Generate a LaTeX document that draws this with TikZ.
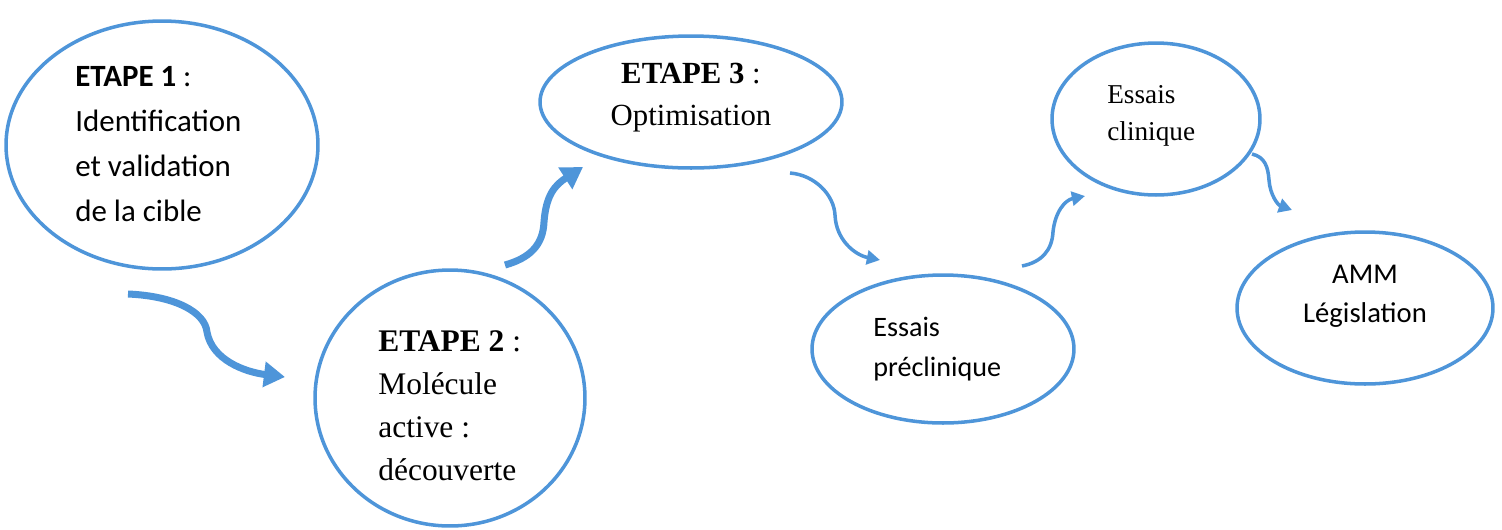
\documentclass[tikz,border=0pt]{standalone}
\usepackage{fontspec}
\setmainfont{Liberation Serif}
\setsansfont{Carlito}
\usepackage{tikz}
\usetikzlibrary{shapes.geometric,arrows.meta}
\definecolor{stepblue}{RGB}{78,149,217}

\begin{document}
\begin{tikzpicture}[x=0.02cm, y=-0.02cm]
        \tikzstyle{enode} = [draw=stepblue, line width=2pt, ellipse, inner sep=0pt]
        \tikzstyle{tnode} = [inner sep=0pt, align=left, anchor=north west]
        \tikzstyle{bigarr} = [draw=stepblue, line width=4pt, -{Triangle[width=14pt,length=12pt]}]
        \tikzstyle{smallarr} = [draw=stepblue, line width=2pt, -{Triangle[width=8pt,length=7.5pt]}]

        \useasboundingbox (0,0) rectangle (1502,529);

        % etapes
        \node[enode, minimum width=6.24cm, minimum height=4.96cm] (e1) at (162,145) {};
        \node[enode, minimum width=5.4cm, minimum height=5.12cm] (e2) at (450,398) {};
        \node[enode, minimum width=6.04cm, minimum height=2.64cm] (e3) at (691,102) {};
        \node[enode, minimum width=5.24cm, minimum height=2.96cm] (e4) at (943,349) {};
        \node[enode, minimum width=4.16cm, minimum height=3.04cm] (e5) at (1156,119) {};
        \node[enode, minimum width=5.12cm, minimum height=3.04cm] (e6) at (1365,308) {};

        \node[tnode, font=\sffamily\fontsize{17.6}{25.6}\selectfont] (t1) at (75,66)
          {\textbf{ETAPE 1} :\\ Identification\\ et validation\\ de la cible};
        \node[tnode, font=\fontsize{17.9}{24.5}\selectfont] (t2) at (378,330)
          {\textbf{ETAPE 2} :\\ Molécule\\ active :\\ découverte};
        \node[tnode, align=center, anchor=north, font=\fontsize{17.5}{23.9}\selectfont] (t3) at (691,63)
          {\textbf{ETAPE 3} :\\ Optimisation};
        \node[tnode, font=\sffamily\fontsize{16}{22.8}\selectfont] (t4) at (873,317)
          {Essais\\ préclinique};
        \node[tnode, font=\fontsize{15.5}{21.1}\selectfont] (t5) at (1107,85)
          {Essais\\ clinique};
        \node[tnode, align=center, anchor=north, font=\sffamily\fontsize{16.3}{22.2}\selectfont] (t6) at (1365,265)
          {AMM\\ Législation};

        % fleches
        \coordinate (a1s) at (128,294);
        \coordinate (a1e) at (285,377);
        \coordinate (a2s) at (505,265);
        \coordinate (a2e) at (583,167);
        \coordinate (a3s) at (790,173);
        \coordinate (a3e) at (880,260);
        \coordinate (a4s) at (1022,266);
        \coordinate (a4e) at (1085,196);
        \coordinate (a5s) at (1252,154);
        \coordinate (a5e) at (1292,210);

        \draw[bigarr] (a1s) .. controls (175,296) and (205,312) .. (207,332)
          .. controls (212,360) and (245,372) .. (a1e);
        \draw[bigarr] (a2s) .. controls (530,258) and (543,245) .. (544,222)
          .. controls (546,195) and (555,185) .. (a2e);
        \draw[smallarr] (a3s) .. controls (815,175) and (834,195) .. (835,215)
          .. controls (836,240) and (855,255) .. (a3e);
        \draw[smallarr] (a4s) .. controls (1042,262) and (1052,250) .. (1053,232)
          .. controls (1055,212) and (1065,200) .. (a4e);
        \draw[smallarr] (a5s) .. controls (1265,157) and (1268,167) .. (1269,180)
          .. controls (1270,195) and (1278,205) .. (a5e);
\end{tikzpicture}
\end{document}
